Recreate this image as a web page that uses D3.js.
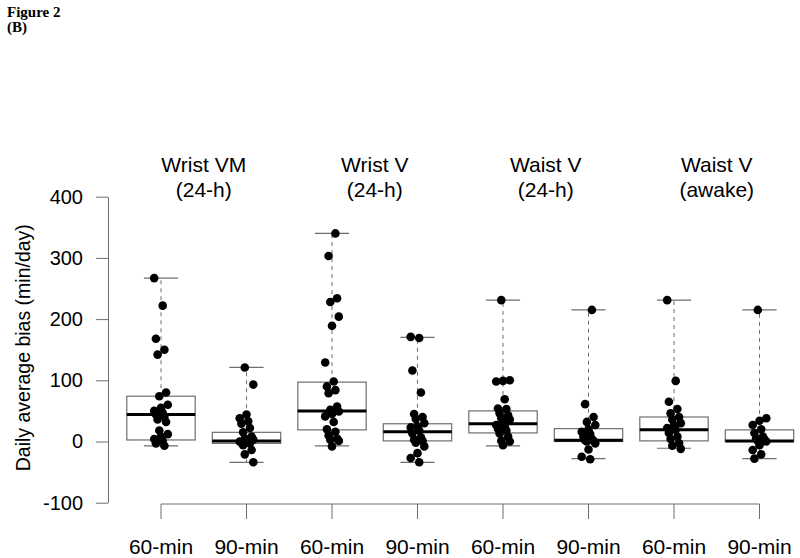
<!DOCTYPE html>
<html><head><meta charset="utf-8">
<script src="https://cdn.jsdelivr.net/npm/d3@7"></script>
<style>body{margin:0;background:#fff}svg{display:block}</style>
</head><body>
<svg id="c" width="800" height="558"></svg>
<script>
// ---- data ----
const categories = ["60-min","90-min","60-min","90-min","60-min","90-min","60-min","90-min"];
const groupTitles = [["Wrist VM","(24-h)"],["Wrist V","(24-h)"],["Waist V","(24-h)"],["Waist V","(awake)"]];
const q1          = [2.5, -3, 19, 1, 14, 0, 1, 0];
const medians     = [44, 1, 50, 16, 29, 2, 19, 1];
const q3          = [74, 15, 97, 29, 50, 21, 40, 19];
const whiskerLow  = [-7, -34, -7, -34, -7, -28, -11, -28];
const whiskerHigh = [267, 121, 340, 170, 231, 215, 231, 215];
const pointsWristVM60 = [267,222,168,150,142,80,74,60,55,50,47,44,40,36,32,18,12,8,4,1,-3,-7];
const pointsWristVM90 = [121,93,44,38,33,29,22,15,8,5,3,1,0,-1,-2,-3,-6,-14,-21,-34];
const pointsWristV60  = [340,303,234,228,204,189,129,98,90,84,79,57,52,49,45,41,32,20,16,10,5,3,1,-8];
const pointsWristV90  = [171,169,116,80,45,40,37,30,25,23,18,13,7,3,1,-2,-8,-19,-27,-34];
const pointsWaistV60  = [231,100,99,98,69,54,53,46,43,38,36,32,27,25,21,18,13,8,1,0,-6];
const pointsWaistV90  = [215,61,40,32,27,20,16,12,8,4,2,1,0,-3,-13,-25,-29];
const pointsAwake60   = [231,99,65,53,46,40,36,30,27,22,19,14,8,4,-3,-7,-12];
const pointsAwake90   = [215,38,34,27,20,14,8,5,3,1,0,-6,-14,-21,-28];
const pointSets = [pointsWristVM60,pointsWristVM90,pointsWristV60,pointsWristV90,
                   pointsWaistV60,pointsWaistV90,pointsAwake60,pointsAwake90];
const yTicks = [-100,0,100,200,300,400];
const yLabel = "Daily average bias (min/day)";

// ---- layout ----
const svg = d3.select("#c");
const font = "'Liberation Sans', Arial, Helvetica, sans-serif";
const idx = d3.range(categories.length);
const x = d3.scaleBand().domain(idx).range([118.25, 802.25]).paddingInner(0.2).paddingOuter(0.1);
const y = d3.scaleLinear().domain([-100, 400]).range([502.7, 196.7]);
const cx = i => x(i) + x.bandwidth() / 2;
const bw = x.bandwidth();
const grey = "#6e6e6e";

svg.append("text").attr("x", 7).attr("y", 17)
  .attr("font-family", "'Liberation Serif','Times New Roman',serif").attr("font-weight", "bold")
  .attr("font-size", 15).text("Figure 2");
svg.append("text").attr("x", 7).attr("y", 32)
  .attr("font-family", "'Liberation Serif','Times New Roman',serif").attr("font-weight", "bold")
  .attr("font-size", 15).text("(B)");

// y axis
const yAxis = svg.append("g").attr("transform", "translate(108,0)")
  .call(d3.axisLeft(y).tickValues(yTicks).tickSize(12).tickPadding(13).tickSizeOuter(0)
    .tickFormat(v => String(v)));
yAxis.select(".domain").attr("stroke", grey);
yAxis.selectAll(".tick line").attr("stroke", grey);
yAxis.selectAll("text").attr("font-family", font).attr("font-size", 20).attr("fill", "#000");

svg.append("text").attr("transform", `translate(30,${(y(-100)+y(400))/2 - 2}) rotate(-90)`)
  .attr("text-anchor", "middle").attr("font-family", font).attr("font-size", 19.5)
  .text(yLabel);

// x axis
const xAxis = svg.append("g").attr("transform", "translate(0,504)")
  .call(d3.axisBottom(x).tickSize(15).tickPadding(20).tickFormat(i => categories[i]));
xAxis.select(".domain").remove();
xAxis.append("line").attr("x1", cx(0)).attr("x2", cx(idx.length - 1))
  .attr("stroke", grey);
xAxis.selectAll(".tick line").attr("stroke", grey);
xAxis.selectAll("text").attr("font-family", font).attr("font-size", 21).attr("fill", "#000");

// group titles
groupTitles.forEach((t, g) => {
  const gx = (cx(2 * g) + cx(2 * g + 1)) / 2;
  t.forEach((line, k) => {
    svg.append("text").attr("x", gx).attr("y", 172 + k * 25)
      .attr("text-anchor", "middle").attr("font-family", font).attr("font-size", 21)
      .text(line);
  });
});

// boxes
const boxes = svg.append("g");
idx.forEach(i => {
  const g = boxes.append("g");
  const c = cx(i);
  g.append("line").attr("x1", c).attr("x2", c).attr("y1", y(q3[i])).attr("y2", y(whiskerHigh[i]))
    .attr("stroke", grey).attr("stroke-dasharray", "4,4");
  g.append("line").attr("x1", c).attr("x2", c).attr("y1", y(q1[i])).attr("y2", y(whiskerLow[i]))
    .attr("stroke", grey).attr("stroke-dasharray", "4,4");
  [whiskerHigh[i], whiskerLow[i]].forEach(v => {
    g.append("line").attr("x1", c - bw / 4).attr("x2", c + bw / 4).attr("y1", y(v)).attr("y2", y(v))
      .attr("stroke", grey).attr("stroke-width", 1.2);
  });
  g.append("rect").attr("x", x(i)).attr("width", bw)
    .attr("y", y(q3[i])).attr("height", y(q1[i]) - y(q3[i]))
    .attr("fill", "#fff").attr("stroke", grey).attr("stroke-width", 1.2);
  g.append("line").attr("x1", x(i)).attr("x2", x(i) + bw).attr("y1", y(medians[i])).attr("y2", y(medians[i]))
    .attr("stroke", "#000").attr("stroke-width", 3);
  // points with deterministic small jitter
  pointSets[i].forEach((v, k) => {
    const off = (((k * 5 + i * 3) % 9) - 4) * 1.7;
    g.append("circle").attr("cx", c + off).attr("cy", y(v)).attr("r", 4.3).attr("fill", "#000");
  });
});
</script>
</body></html>
